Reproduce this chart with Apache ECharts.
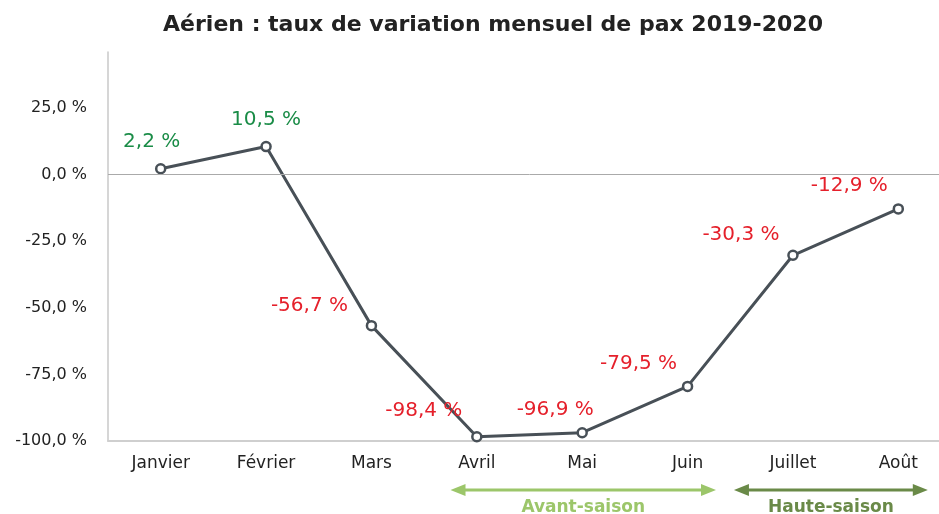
<!DOCTYPE html>
<html>
<head>
<meta charset="utf-8">
<script src="https://cdn.jsdelivr.net/npm/echarts@6/dist/echarts.min.js"></script>
<style>
  html, body { margin: 0; padding: 0; background: #fff; overflow: hidden; }
  #container { width: 951px; height: 514px; }
</style>
</head>
<body>
<div id="container"></div>
<script>
var months = ['Janvier', 'Février', 'Mars', 'Avril', 'Mai', 'Juin', 'Juillet', 'Août'];
var variation = [2.2, 10.5, -56.7, -98.4, -96.9, -79.5, -30.3, -12.9];
var yTicks = [-100, -75, -50, -25, 0, 25];
// label offsets relative to 'top' position
var labelShift = [[-9, -6], [0, -6], [-62, 1], [-53, -5], [-27, -2], [-49, -2], [-52, 0], [-49, -2]];

var font = 'DejaVu Sans';
var dom = document.getElementById('container');
var myChart = echarts.init(dom, null, { renderer: 'canvas' });

function fmt(v) {
    return v.toFixed(1).replace('.', ',') + ' %';
}

var option = {
    animation: false,
    textStyle: { fontFamily: font },
    title: {
        text: 'Aérien : taux de variation mensuel de pax 2019-2020',
        left: 488,
        top: 9,
        textAlign: 'center',
        textStyle: { fontFamily: font, fontSize: 22, fontWeight: 'bold', color: '#222' }
    },
    grid: { left: 108, top: 52, right: 0, bottom: 73 },
    xAxis: {
        type: 'category',
        data: months,
        boundaryGap: true,
        axisLine: { onZero: false, lineStyle: { color: '#cfcfcf', width: 2 } },
        axisTick: { show: false },
        axisLabel: { color: '#222', fontSize: 17, margin: 14 }
    },
    yAxis: {
        type: 'value',
        min: -100,
        max: 46,
        interval: 25,
        axisLine: { show: true, lineStyle: { color: '#c8c8c8', width: 1.5 } },
        axisTick: { show: false },
        splitLine: { show: false },
        axisLabel: {
            color: '#222',
            fontSize: 16,
            margin: 21,
            showMaxLabel: false,
            formatter: function (v) {
                return yTicks.indexOf(v) >= 0 ? fmt(v) : '';
            }
        }
    },
    series: [{
        type: 'line',
        data: variation.map(function (v, i) {
            return {
                value: v,
                label: {
                    offset: labelShift[i],
                    color: v >= 0 ? '#1a8c47' : '#e5202b'
                }
            };
        }),
        symbol: 'circle',
        symbolSize: 9,
        lineStyle: { color: '#485057', width: 3 },
        itemStyle: { color: '#fff', borderColor: '#485057', borderWidth: 2.5 },
        label: {
            show: true,
            position: 'top',
            fontSize: 20,
            formatter: function (p) { return fmt(p.value); }
        },
        markLine: {
            silent: true,
            symbol: 'none',
            label: { show: false },
            lineStyle: { color: '#aaaaaa', width: 1, type: 'solid' },
            data: [{ yAxis: 0 }]
        }
    }]
};
myChart.setOption(option);

// season arrows under the axis, placed from category positions
function catX(pos) {
    var i = Math.floor(pos);
    var a = myChart.convertToPixel({ xAxisIndex: 0 }, i);
    var b = myChart.convertToPixel({ xAxisIndex: 0 }, i + 1);
    return a + (b - a) * (pos - i);
}
function arrow(x1, x2, y, color, text) {
    var h = 15, w = 6;
    return {
        type: 'group',
        children: [
            { type: 'line', shape: { x1: x1 + h - 2, y1: y, x2: x2 - h + 2, y2: y }, style: { stroke: color, lineWidth: 3 } },
            { type: 'polygon', shape: { points: [[x1, y], [x1 + h, y - w], [x1 + h, y + w]] }, style: { fill: color } },
            { type: 'polygon', shape: { points: [[x2, y], [x2 - h, y - w], [x2 - h, y + w]] }, style: { fill: color } },
            { type: 'text', x: (x1 + x2) / 2, y: y + 18, style: { text: text, fill: color, font: 'bold 17px "' + font + '"', align: 'center', verticalAlign: 'middle' } }
        ]
    };
}
var ay = 490;
myChart.setOption({
    graphic: [
        arrow(catX(2.75), catX(5.27), ay, '#9cc66a', 'Avant-saison'),
        arrow(catX(5.44), catX(7.28), ay, '#6a8a48', 'Haute-saison')
    ]
});
</script>
</body>
</html>
